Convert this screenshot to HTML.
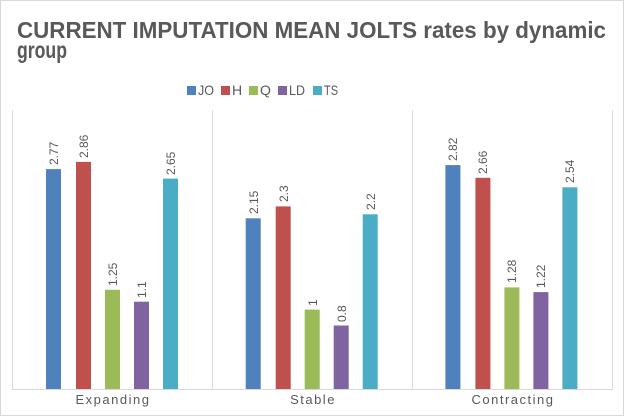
<!DOCTYPE html>
<html><head><style>body{margin:0;background:#fff}svg{display:block}</style></head><body>
<svg width="624" height="416" xmlns="http://www.w3.org/2000/svg" font-family="Liberation Sans, sans-serif">
<rect x="0.5" y="0.5" width="623" height="415" fill="#fff" stroke="#d9d9d9"/>
<text x="17" y="38" font-size="23" font-weight="bold" fill="#595959" textLength="589" lengthAdjust="spacingAndGlyphs">CURRENT IMPUTATION MEAN JOLTS rates by dynamic</text>
<text x="17" y="58" font-size="23" font-weight="bold" fill="#595959" textLength="50" lengthAdjust="spacingAndGlyphs">group</text>
<g font-size="14" fill="#595959">
<rect x="187" y="86" width="9" height="9" fill="#4f81bd"/><text x="198" y="95" textLength="16" lengthAdjust="spacingAndGlyphs">JO</text>
<rect x="221" y="86" width="9" height="9" fill="#c0504d"/><text x="232" y="95">H</text>
<rect x="249" y="86" width="9" height="9" fill="#9bbb59"/><text x="260" y="95">Q</text>
<rect x="278" y="86" width="9" height="9" fill="#8064a2"/><text x="289" y="95" textLength="16" lengthAdjust="spacingAndGlyphs">LD</text>
<rect x="313" y="86" width="9" height="9" fill="#4bacc6"/><text x="324" y="95" textLength="14" lengthAdjust="spacingAndGlyphs">TS</text>
</g>
<g stroke="#d9d9d9" stroke-width="1">
<line x1="12.5" y1="110" x2="12.5" y2="389"/><line x1="212.5" y1="110" x2="212.5" y2="389"/>
<line x1="412.5" y1="110" x2="412.5" y2="389"/><line x1="612.5" y1="110" x2="612.5" y2="389"/>
<line x1="12" y1="389.5" x2="613" y2="389.5"/>
</g>
<g>
<rect x="46" y="169.1" width="15" height="219.9" fill="#4f81bd"/>
<rect x="76" y="161.9" width="15" height="227.1" fill="#c0504d"/>
<rect x="105" y="289.75" width="15" height="99.25" fill="#9bbb59"/>
<rect x="134" y="301.7" width="15" height="87.3" fill="#8064a2"/>
<rect x="163" y="178.6" width="15" height="210.4" fill="#4bacc6"/>
<rect x="245.7" y="218.3" width="15" height="170.7" fill="#4f81bd"/>
<rect x="275.7" y="206.4" width="15" height="182.6" fill="#c0504d"/>
<rect x="304.7" y="309.6" width="15" height="79.4" fill="#9bbb59"/>
<rect x="333.7" y="325.5" width="15" height="63.5" fill="#8064a2"/>
<rect x="362.7" y="214.3" width="15" height="174.7" fill="#4bacc6"/>
<rect x="445.4" y="165.1" width="15" height="223.9" fill="#4f81bd"/>
<rect x="475.4" y="177.8" width="15" height="211.2" fill="#c0504d"/>
<rect x="504.4" y="287.4" width="15" height="101.6" fill="#9bbb59"/>
<rect x="533.4" y="292.1" width="15" height="96.9" fill="#8064a2"/>
<rect x="562.4" y="187.3" width="15" height="201.7" fill="#4bacc6"/>
</g>
<g font-size="12" fill="#595959">
<text transform="translate(58,165) rotate(-90)">2.77</text>
<text transform="translate(88,158) rotate(-90)">2.86</text>
<text transform="translate(117,286) rotate(-90)">1.25</text>
<text transform="translate(146,298) rotate(-90)">1.1</text>
<text transform="translate(175,175) rotate(-90)">2.65</text>
<text transform="translate(258,214) rotate(-90)">2.15</text>
<text transform="translate(288,202) rotate(-90)">2.3</text>
<text transform="translate(317,306) rotate(-90)">1</text>
<text transform="translate(346,322) rotate(-90)">0.8</text>
<text transform="translate(375,210) rotate(-90)">2.2</text>
<text transform="translate(457,161) rotate(-90)">2.82</text>
<text transform="translate(487,174) rotate(-90)">2.66</text>
<text transform="translate(516,283) rotate(-90)">1.28</text>
<text transform="translate(545,288) rotate(-90)">1.22</text>
<text transform="translate(574,183) rotate(-90)">2.54</text>
</g>
<g font-size="13" fill="#595959" text-anchor="middle" letter-spacing="1.5">
<text x="113" y="404">Expanding</text><text x="313" y="404">Stable</text><text x="513" y="404">Contracting</text>
</g>
</svg>
</body></html>
